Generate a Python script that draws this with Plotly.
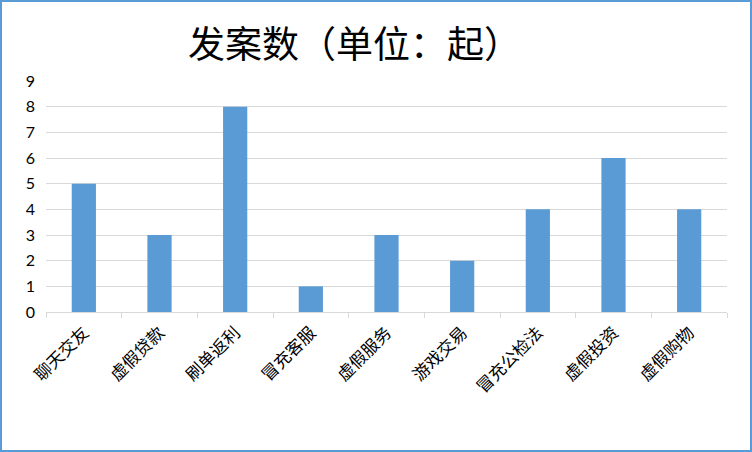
import plotly.graph_objects as go

categories = ["聊天交友", "虚假贷款", "刷单返利", "冒充客服", "虚假服务", "游戏交易", "冒充公检法", "虚假投资", "虚假购物"]
values = [5, 3, 8, 1, 3, 2, 4, 6, 4]
title_text = "发案数（单位：起）"

W, H = 752, 452
ml, mr, mt, mb = 46, 25, 81, 140
pw, ph = W - ml - mr, H - mt - mb

def px_x(p):
    return (p - ml) / pw

def px_y(p):
    return (H - mb - p) / ph

fig = go.Figure(go.Bar(x=categories, y=values, marker_color="#5B9BD5", marker_line_width=0))

fig.update_layout(
    width=W, height=H,
    margin=dict(l=ml, r=mr, t=mt, b=mb),
    paper_bgcolor="white", plot_bgcolor="white",
    bargap=0.68,
    showlegend=False,
    font=dict(family="Noto Sans CJK SC", color="#000000"),
    xaxis=dict(
        type="category",
        showline=True, linecolor="#D9D9D9", linewidth=1,
        ticks="outside", tickson="boundaries", ticklen=5, tickcolor="#D9D9D9",
        tickangle=-45, ticklabelstandoff=3,
        tickfont=dict(family="Noto Sans CJK SC", size=17, color="#000000"),
        showgrid=False,
    ),
    yaxis=dict(
        range=[0, 9], dtick=1, tick0=0,
        showgrid=True, gridcolor="#D9D9D9", gridwidth=1,
        zeroline=False, showline=False,
        ticks="", ticklabelstandoff=10,
        tickfont=dict(family="Lato", size=16, color="#000000"),
    ),
    annotations=[dict(
        text=title_text, xref="paper", yref="paper",
        x=px_x(354), y=px_y(42), xanchor="center", yanchor="middle",
        showarrow=False, font=dict(family="Noto Sans CJK SC", size=37, color="#000000"),
    )],
    shapes=[dict(
        type="rect", xref="paper", yref="paper",
        x0=px_x(1), x1=px_x(751), y0=px_y(451), y1=px_y(1),
        line=dict(color="#5B9BD5", width=2), fillcolor="rgba(0,0,0,0)", layer="above",
    )],
)

fig.write_html("out.html", config={"displayModeBar": False},
               post_script="document.body.style.margin='0';document.body.style.overflow='hidden';")
